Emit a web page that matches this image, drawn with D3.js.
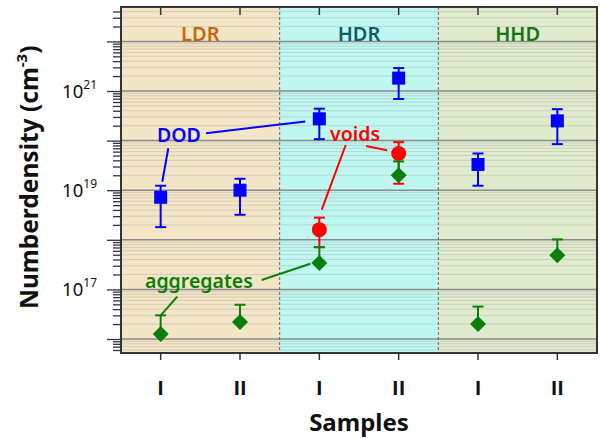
<!DOCTYPE html>
<html>
<head>
<meta charset="utf-8">
<script src="https://cdn.jsdelivr.net/npm/d3@7"></script>
<style>
html,body{margin:0;padding:0;background:#fff;}
text{font-family:"Noto Sans",sans-serif;}
</style>
</head>
<body>
<svg id="chart" width="600" height="439"></svg>
<script>
// ---------- data ----------
const categories = ["LDR-I","LDR-II","HDR-I","HDR-II","HHD-I","HHD-II"];
const tickLabels = ["I","II","I","II","I","II"];
const groups = ["LDR","HDR","HHD"];
const groupMembers = [["LDR-I","LDR-II"],["HDR-I","HDR-II"],["HHD-I","HHD-II"]];

const dodValues = [7.2e18, 1.0e19, 2.75e20, 1.82e21, 3.3e19, 2.5e20];
const dodHigh   = [1.23e19, 1.7e19, 4.4e20, 2.9e21, 5.5e19, 4.3e20];
const dodLow    = [1.8e18, 3.2e18, 1.07e20, 6.9e20, 1.23e19, 8.5e19];

const voidCats   = ["HDR-I","HDR-II"];
const voidValues = [1.6e18, 5.5e19];
const voidHigh   = [2.8e18, 9.3e19];
const voidLow    = [7.1e17, 1.35e19];

const aggValues = [1.26e16, 2.2e16, 3.4e17, 2.0e19, 2.0e16, 4.9e17];
const aggHigh   = [3.0e16, 4.9e16, 7.1e17, 3.8e19, 4.5e16, 1.02e18];

const yDomain = [5.22e15, 4.94e22];
const yLabelExponents = [17, 19, 21];

// ---------- layout ----------
const svg = d3.select("#chart");
const L = 121, R = 597, T = 7, B = 353;
const x = d3.scaleBand().domain(categories).range([L, R]);
const y = d3.scaleLog().domain(yDomain).range([B, T]);
const cx = c => x(c) + x.bandwidth()/2;

const groupFill = ["#f3e5c6", "#bff8f1", "#e0ebcd"];
const groupText = ["#c8650c", "#125e5e", "#17741a"];

// backgrounds
groupMembers.forEach((m, i) => {
  const x0 = x(m[0]), x1 = x(m[m.length-1]) + x.bandwidth();
  svg.append("rect").attr("x", x0).attr("y", T).attr("width", x1 - x0).attr("height", B - T)
    .attr("fill", groupFill[i]);
});

// grid
const decades = d3.range(15, 23).map(e => Math.pow(10, e)).filter(v => v >= yDomain[0] && v <= yDomain[1]);
const minors = [];
d3.range(15, 23).forEach(e => { for (let k = 2; k <= 9; k++) { const v = k * Math.pow(10, e); if (v >= yDomain[0] && v <= yDomain[1]) minors.push(v); } });

svg.append("g").selectAll("line").data(minors).join("line")
  .attr("x1", L).attr("x2", R).attr("y1", d => y(d)).attr("y2", d => y(d))
  .attr("stroke", "#9a9a9a").attr("stroke-opacity", 0.33).attr("stroke-width", 1);
svg.append("g").selectAll("line").data(decades).join("line")
  .attr("x1", L).attr("x2", R).attr("y1", d => y(d)).attr("y2", d => y(d))
  .attr("stroke", "#8a8a8a").attr("stroke-width", 1.5);

// group separators
groupMembers.slice(1).forEach(m => {
  svg.append("line").attr("x1", x(m[0])).attr("x2", x(m[0])).attr("y1", T).attr("y2", B)
    .attr("stroke", "#666").attr("stroke-width", 1).attr("stroke-dasharray", "3,2");
});

// group labels
groups.forEach((g, i) => {
  const m = groupMembers[i];
  const xc = (x(m[0]) + x(m[m.length-1]) + x.bandwidth()) / 2;
  svg.append("text").attr("x", xc).attr("y", 41).attr("text-anchor", "middle")
    .attr("font-size", 20).attr("font-weight", 600).attr("fill", groupText[i]).text(g);
});

// axes
const axisColor = "#333";
const gMinor = svg.append("g").attr("transform", `translate(${L},0)`)
  .call(d3.axisLeft(y).tickValues(minors).tickSize(8).tickFormat(""));
const gMajor = svg.append("g").attr("transform", `translate(${L},0)`)
  .call(d3.axisLeft(y).tickValues(decades).tickSize(14).tickFormat(""));
[gMinor, gMajor].forEach(g => { g.select(".domain").remove(); g.selectAll("line").attr("stroke", axisColor).attr("stroke-width", 1.3); });

yLabelExponents.forEach(e => {
  const t = svg.append("text").attr("x", 97).attr("y", y(Math.pow(10, e)) + 6.5)
    .attr("text-anchor", "end").attr("font-size", 18.5).attr("fill", "#111");
  t.append("tspan").text("10");
  t.append("tspan").attr("font-size", 12).attr("dy", -9).text(String(e));
});

const gBottom = svg.append("g").attr("transform", `translate(0,${B})`)
  .call(d3.axisBottom(x).tickSize(7).tickFormat(""));
gBottom.select(".domain").remove();
gBottom.selectAll("line").attr("stroke", axisColor).attr("stroke-width", 1.5);
const gTop = svg.append("g").attr("transform", `translate(0,${T})`)
  .call(d3.axisTop(x).tickSize(-8).tickFormat(""));
gTop.select(".domain").remove();
gTop.selectAll("line").attr("stroke", axisColor).attr("stroke-width", 1.5);

categories.forEach((c, i) => {
  svg.append("text").attr("x", cx(c)).attr("y", 394.5).attr("text-anchor", "middle")
    .style("font-family", "'Open Sans', sans-serif")
    .attr("font-size", 20).attr("font-weight", "bold").attr("fill", "#111").text(tickLabels[i]);
});

// frame
svg.append("rect").attr("x", L).attr("y", T).attr("width", R - L).attr("height", B - T)
  .attr("fill", "none").attr("stroke", axisColor).attr("stroke-width", 2);

// axis titles
svg.append("text").attr("x", (L + R) / 2).attr("y", 431).attr("text-anchor", "middle")
  .attr("font-size", 24).attr("font-weight", "bold").attr("fill", "#111").text("Samples");
const yt = svg.append("text").attr("transform", "translate(38,309) rotate(-90)")
  .attr("text-anchor", "start").attr("font-size", 24.5).attr("font-weight", "bold").attr("fill", "#111");
yt.append("tspan").text("Numberdensity (cm");
yt.append("tspan").attr("font-size", 15).attr("dy", -11).text("-3");
yt.append("tspan").attr("dy", 11).text(")");

// ---------- marks ----------
const blue = "#0000ff", red = "#ff0000", green = "#0a7f0a";
function errBar(g, xc, yHi, yLo, color) {
  g.append("line").attr("x1", xc).attr("x2", xc).attr("y1", yHi).attr("y2", yLo).attr("stroke", color).attr("stroke-width", 2);
  g.append("line").attr("x1", xc - 5.5).attr("x2", xc + 5.5).attr("y1", yHi).attr("y2", yHi).attr("stroke", color).attr("stroke-width", 2);
  if (yLo !== yHi) g.append("line").attr("x1", xc - 5.5).attr("x2", xc + 5.5).attr("y1", yLo).attr("y2", yLo).attr("stroke", color).attr("stroke-width", 2);
}

const gDod = svg.append("g");
categories.forEach((c, i) => {
  errBar(gDod, cx(c), y(dodHigh[i]), y(dodLow[i]), blue);
  gDod.append("rect").attr("x", cx(c) - 6.5).attr("y", y(dodValues[i]) - 6.5).attr("width", 13).attr("height", 13).attr("fill", blue);
});

const gVoid = svg.append("g");
voidCats.forEach((c, i) => {
  errBar(gVoid, cx(c), y(voidHigh[i]), y(voidLow[i]), red);
  gVoid.append("circle").attr("cx", cx(c)).attr("cy", y(voidValues[i])).attr("r", 7.5).attr("fill", red);
});

const gAgg = svg.append("g");
categories.forEach((c, i) => {
  errBar(gAgg, cx(c), y(aggHigh[i]), y(aggValues[i]), green);
  gAgg.append("path").attr("transform", `translate(${cx(c)},${y(aggValues[i])})`)
    .attr("d", "M0,-8L8,0L0,8L-8,0Z").attr("fill", green);
});

// ---------- annotations ----------
function label(txt, xPos, yPos, color) {
  svg.append("text").attr("x", xPos).attr("y", yPos).attr("font-size", 19.5).attr("font-weight", 600).attr("fill", color).text(txt);
}
function leader(x1, y1, x2, y2, color) {
  svg.append("line").attr("x1", x1).attr("y1", y1).attr("x2", x2).attr("y2", y2).attr("stroke", color).attr("stroke-width", 2);
}
label("DOD", 157, 141.5, blue);
leader(168.3, 148.3, cx("LDR-I") + 1.6, y(dodHigh[0]) - 4, blue);
leader(206, 133.3, cx("HDR-I") - 14, y(dodValues[2]) + 2.7, blue);

label("voids", 330, 140.5, red);
leader(345.7, 145, cx("HDR-I") + 2.4, y(voidHigh[0]) - 8, red);
leader(366, 146, cx("HDR-II") - 11.6, y(voidValues[1]) - 3.3, red);

label("aggregates", 145, 288, green);
leader(177.3, 296.7, cx("LDR-I"), y(aggHigh[0]), green);
leader(261.7, 280, cx("HDR-I") - 9, y(aggValues[2]) + 0.7, green);
</script>
</body>
</html>
